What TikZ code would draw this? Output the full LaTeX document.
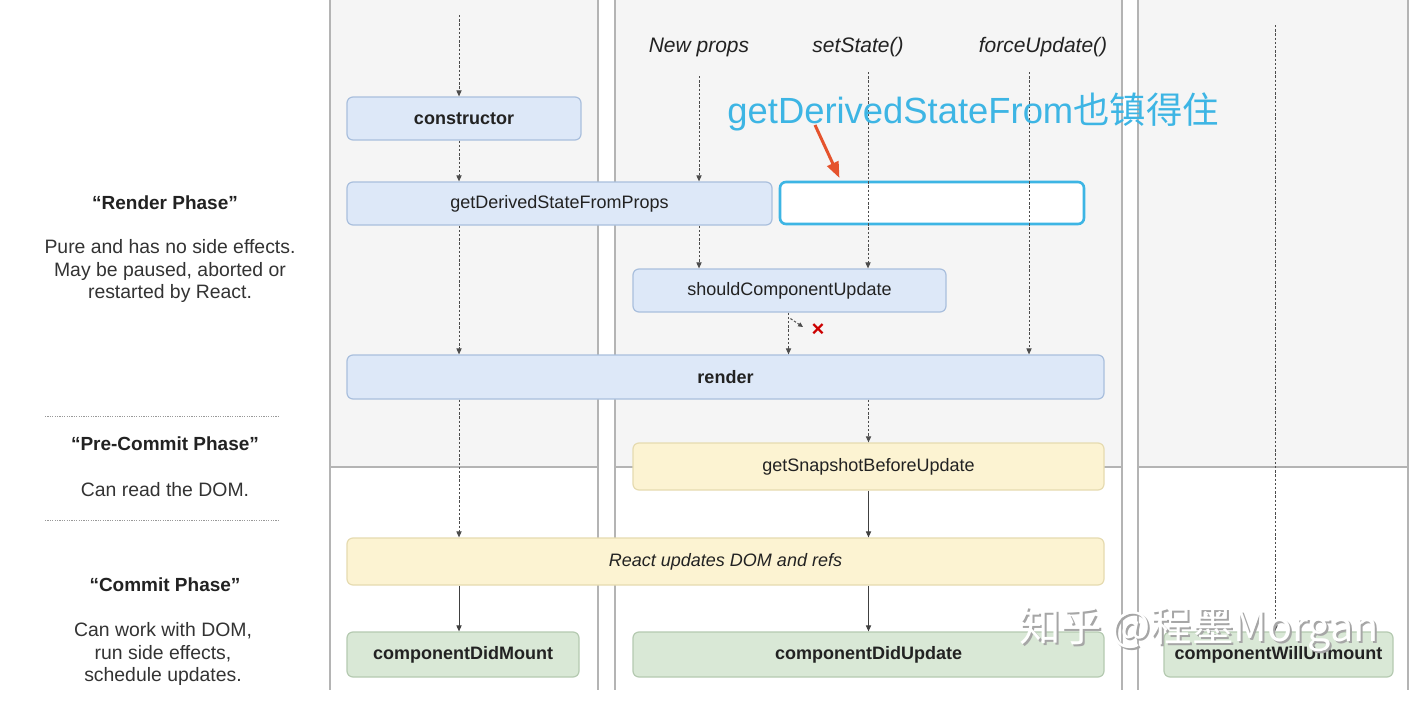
\documentclass[tikz,border=0pt]{standalone}
\usepackage{fontspec}
\setmainfont{Liberation Sans}
\newfontfamily\cjk{Noto Sans CJK SC}
\usepackage{tikz}
\usetikzlibrary{arrows.meta, positioning, calc}
\definecolor{panelbg}{HTML}{F5F5F5}
\definecolor{panelline}{HTML}{B4B4B4}
\definecolor{bluefill}{HTML}{DDE8F8}
\definecolor{blueline}{HTML}{A9BFDD}
\definecolor{yellowfill}{HTML}{FCF3D2}
\definecolor{yellowline}{HTML}{E6DBB0}
\definecolor{greenfill}{HTML}{D9E8D6}
\definecolor{greenline}{HTML}{B5CAB1}
\definecolor{annocyan}{HTML}{3DB5E4}
\definecolor{annored}{HTML}{E5532D}
\definecolor{inktext}{HTML}{222222}

\begin{document}
\begin{tikzpicture}[
        x=0.5pt, y=-0.5pt,
        lifebox/.style={draw=blueline, fill=bluefill, rounded corners=3pt, line width=0.6pt, minimum height=21.5pt, inner sep=0pt, font=\fontsize{9}{11}\selectfont, text=inktext},
        yellowbox/.style={lifebox, draw=yellowline, fill=yellowfill, minimum height=23.5pt},
        greenbox/.style={lifebox, draw=greenline, fill=greenfill, minimum height=22.5pt, font=\fontsize{9}{11}\selectfont\bfseries},
        flowdot/.style={-{Triangle[length=3pt,width=2.6pt]}, dash pattern=on 1.2pt off 0.9pt, line width=0.5pt, draw=black!70},
        flowline/.style={-{Triangle[length=3pt,width=2.6pt]}, line width=0.5pt, draw=black!75},
        phasetitle/.style={font=\fontsize{9.5}{11}\selectfont\bfseries, text=inktext},
        phasetext/.style={font=\fontsize{9.7}{11.25}\selectfont, text=black!80, align=center},
        trigger/.style={font=\fontsize{10.5}{12}\selectfont\itshape, text=inktext}
    ]
        \useasboundingbox (0,0) rectangle (1420,712);
        \fill[white] (0,0) rectangle (1420,712);

        % Columns: mounting, updating, unmounting
        \foreach \xl/\xr in {330/598, 615/1122, 1138/1408} {
            \fill[panelbg] (\xl,0) rectangle (\xr,467);
            \draw[panelline, line width=0.6pt] (\xl,467) -- (\xr,467);
            \draw[panelline, line width=0.8pt] (\xl,0) -- (\xl,690) (\xr,0) -- (\xr,690);
        }

        % Phases on the left
        \node[phasetitle] (rendertitle) at (165,203) {“Render Phase”};
        \node[phasetext] (rendertext) at (170,271) {Pure and has no side effects.\\May be paused, aborted or\\restarted by React.};
        \draw[black!40, dash pattern=on 0.6pt off 0.6pt] (45,416) -- (280,416);
        \node[phasetitle] (pretitle) at (165,444) {“Pre-Commit Phase”};
        \node[phasetext] (pretext) at (165,490) {Can read the DOM.};
        \draw[black!40, dash pattern=on 0.6pt off 0.6pt] (45,520) -- (280,520);
        \node[phasetitle] (committitle) at (165,585) {“Commit Phase”};
        \node[phasetext] (committext) at (163,654) {Can work with DOM,\\run side effects,\\schedule updates.};

        % Triggers of an update
        \node[trigger] (newprops) at (699,47) {New props};
        \node[trigger] (setstate) at (858,47) {setState()};
        \node[trigger] (forceupd) at (1043,47) {forceUpdate()};

        % Lifecycle methods
        \node[lifebox, minimum width=117pt, font=\fontsize{9}{11}\selectfont\bfseries] (ctor) at (464,118.5) {constructor};
        \node[lifebox, minimum width=212.5pt] (gdsfp) at (559.5,203.5) {getDerivedStateFromProps};
        \node[draw=annocyan, line width=1.3pt, rounded corners=3pt, fill=white, minimum width=152pt, minimum height=21pt] (annobox) at (932,203) {};
        \node[lifebox, minimum width=156.5pt] (scu) at (789.5,290.5) {shouldComponentUpdate};
        \node[lifebox, minimum width=378.5pt, minimum height=22pt, font=\fontsize{9}{11}\selectfont\bfseries] (render) at (725.5,377) {render};
        \node[yellowbox, minimum width=235.5pt] (gsbu) at (868.5,466.5) {getSnapshotBeforeUpdate};
        \node[yellowbox, minimum width=378.5pt, font=\fontsize{9}{11}\selectfont\itshape] (dom) at (725.5,561.5) {React updates DOM and refs};
        \node[greenbox, minimum width=116pt] (cdm) at (463,654.5) {componentDidMount};
        \node[greenbox, minimum width=235.5pt] (cdu) at (868.5,654.5) {componentDidUpdate};
        \node[greenbox, minimum width=114.5pt] (cwu) at (1278.5,654.5) {componentWillUnmount};

        % Lane starts
        \coordinate (mounttop) at (459,15);
        \coordinate (proptop) at (699,76);
        \coordinate (statetop) at (868,72);
        \coordinate (forcetop) at (1029,72);
        \coordinate (unmounttop) at (1275,25);

        % Mounting
        \draw[flowdot] (mounttop) -- (mounttop |- ctor.north);
        \draw[flowdot] (mounttop |- ctor.south) -- (mounttop |- gdsfp.north);
        \draw[flowdot] (mounttop |- gdsfp.south) -- (mounttop |- render.north);
        \draw[flowdot] (mounttop |- render.south) -- (mounttop |- dom.north);
        \draw[flowline] (mounttop |- dom.south) -- (mounttop |- cdm.north);

        % Updating
        \draw[flowdot] (proptop) -- (proptop |- gdsfp.north);
        \draw[flowdot] (proptop |- gdsfp.south) -- (proptop |- scu.north);
        \draw[flowdot] (statetop) -- (statetop |- scu.north);
        \draw[flowdot] (forcetop) -- (forcetop |- render.north);
        \draw[flowdot] ([xshift=-0.5pt]scu.south) -- ([xshift=-0.5pt]scu.south |- render.north);
        \coordinate (nobranch) at (803,327);
        \draw[flowdot, -{Triangle[length=2.4pt,width=2.2pt]}] ([xshift=0.5pt,yshift=-3pt]scu.south) -- (nobranch);
        \node[text=red!80!black, font=\fontsize{11}{12}\selectfont\bfseries] (nope) at (818,330) {×};
        \draw[flowdot] (gsbu.north |- render.south) -- (gsbu.north);
        \draw[flowline] (gsbu.south) -- (gsbu.south |- dom.north);
        \draw[flowline] (gsbu.south |- dom.south) -- (cdu.north);

        % Unmounting
        \draw[flowdot] (unmounttop) -- (unmounttop |- cwu.north);

        % Note added on top
        \node[text=annocyan, font=\fontsize{18.2}{20}\selectfont, anchor=west, inner sep=0pt] (annotext) at (727,112) {getDerivedStateFrom{\cjk 也镇得住}};
        \coordinate (annotail) at (815,125);
        \draw[annored, line width=1.5pt, -{Triangle[length=8pt,width=6pt]}, shorten >=1.5pt] (annotail) -- ([xshift=31pt]annobox.north west);

        % Watermark
        \node[font=\cjk\fontsize{20.7}{22}\selectfont, text=black!35, anchor=west, inner sep=0pt] (watershade) at (1021,631) {知乎 @程墨Morgan};
        \node[font=\cjk\fontsize{20.7}{22}\selectfont, text=white, anchor=west, inner sep=0pt] (watermark) at (1019,629) {知乎 @程墨Morgan};
    \end{tikzpicture}
\end{document}
